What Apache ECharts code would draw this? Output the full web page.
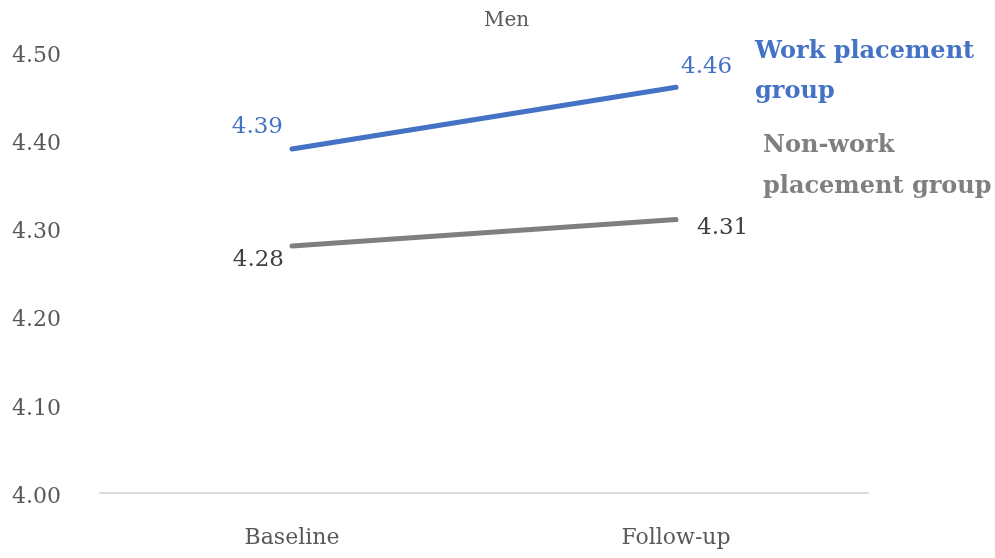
<!DOCTYPE html>
<html>
<head>
<meta charset="utf-8">
<script src="https://cdn.jsdelivr.net/npm/echarts@6/dist/echarts.min.js"></script>
<style>
  html, body { margin: 0; padding: 0; background: #fff; }
  #chart { width: 995px; height: 558px; }
</style>
</head>
<body>
<div id="chart"></div>
<script>
// Mean scores for men, by survey wave
const categories = ['Baseline', 'Follow-up'];
const workPlacement = [4.39, 4.46];
const nonWorkPlacement = [4.28, 4.31];
const yTicks = [4.0, 4.1, 4.2, 4.3, 4.4, 4.5];

const FONT = '"DejaVu Serif", "Liberation Serif", serif';
const BLUE = '#4472C4';
const GRAY = '#7F7F7F';
const TEXT = '#595959';

// Per-point label placement for each line
const blueLabels = [
  { position: 'left', offset: [-4, -22] },
  { position: 'right', offset: [0, -20] }
];
const grayLabels = [
  { position: 'left', offset: [-3, 14] },
  { position: 'right', offset: [16, 8] }
];

function points(values, labels, color) {
  return values.map((v, i) => ({
    value: v,
    label: Object.assign({
      show: true,
      color: color,
      fontFamily: FONT,
      fontSize: 23,
      formatter: p => p.value.toFixed(2)
    }, labels[i])
  }));
}

const chart = echarts.init(document.getElementById('chart'));
chart.setOption({
  animation: false,
  title: {
    text: 'Men',
    left: 479,
    top: 6,
    textStyle: { fontFamily: FONT, fontSize: 20, fontWeight: 'normal', color: TEXT }
  },
  grid: { left: 100, right: 127, top: 52, bottom: 65 },
  xAxis: {
    type: 'category',
    data: categories,
    axisLine: { lineStyle: { color: '#D9D9D9', width: 2 } },
    axisTick: { show: false },
    axisLabel: { fontFamily: FONT, fontSize: 22, color: TEXT, margin: 34 }
  },
  yAxis: {
    type: 'value',
    min: yTicks[0],
    max: yTicks[yTicks.length - 1],
    interval: 0.1,
    splitLine: { show: false },
    axisLine: { show: false },
    axisTick: { show: false },
    axisLabel: {
      fontFamily: FONT, fontSize: 22, color: TEXT,
      align: 'left', margin: 88,
      verticalAlign: 'top', lineHeight: 8,
      formatter: v => v.toFixed(2)
    }
  },
  graphic: [
    {
      type: 'text', left: 755, top: 32,
      style: {
        text: 'Work placement\ngroup', fill: BLUE,
        font: 'bold 24px ' + FONT, lineHeight: 40
      }
    },
    {
      type: 'text', left: 763, top: 125,
      style: {
        text: 'Non-work\nplacement group', fill: GRAY,
        font: 'bold 24px ' + FONT, lineHeight: 41
      }
    }
  ],
  series: [
    {
      name: 'Work placement group',
      type: 'line',
      data: points(workPlacement, blueLabels, BLUE),
      symbol: 'circle',
      symbolSize: 0,
      showSymbol: true,
      itemStyle: { color: BLUE },
      lineStyle: { color: BLUE, width: 5, cap: 'round' }
    },
    {
      name: 'Non-work placement group',
      type: 'line',
      data: points(nonWorkPlacement, grayLabels, '#404040'),
      symbol: 'circle',
      symbolSize: 0,
      showSymbol: true,
      itemStyle: { color: GRAY },
      lineStyle: { color: GRAY, width: 5, cap: 'round' }
    }
  ]
});
</script>
</body>
</html>
